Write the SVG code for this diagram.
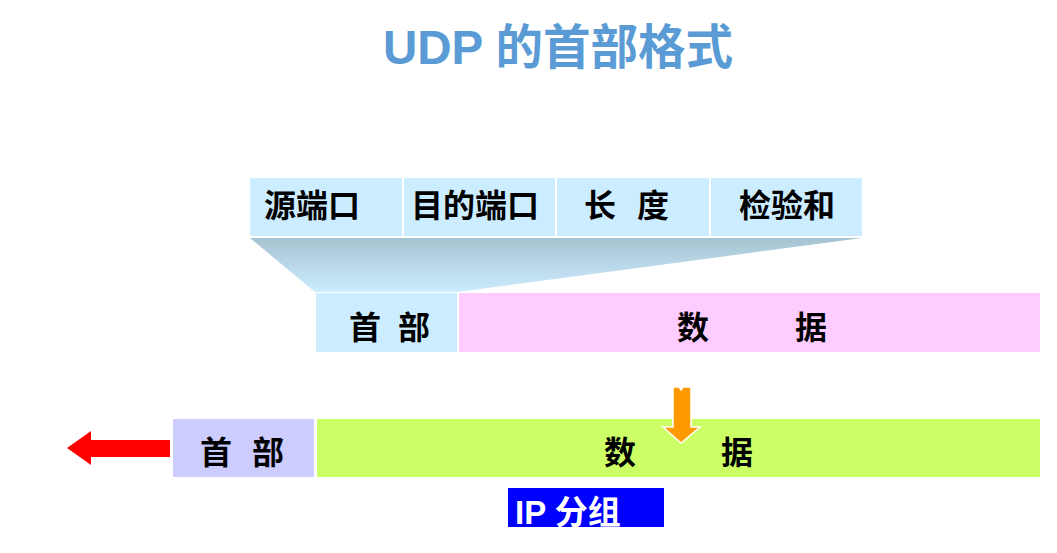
<svg xmlns="http://www.w3.org/2000/svg" width="1057" height="553" viewBox="0 0 1057 553">
  <style>
    .t { font-family: "Liberation Sans", "Noto Sans CJK SC", sans-serif; font-weight: bold; fill: #000; text-anchor: middle; }
    .f { font-size: 32px; }
    .sep { stroke: #ffffff; stroke-width: 2; }
  </style>
  <defs>
    <linearGradient id="fan" x1="0" y1="0" x2="0" y2="1">
      <stop offset="0" stop-color="#A6C3D1"/>
      <stop offset="1" stop-color="#CCECFF"/>
    </linearGradient>
  </defs>
  <rect width="1057" height="553" fill="#ffffff"/>

  <!-- title -->
  <text x="558" y="64" text-anchor="middle" font-family="Liberation Sans, Noto Sans CJK SC, sans-serif" font-weight="bold" font-size="47.5" fill="#5B9BD5">UDP 的首部格式</text>

  <!-- UDP header fields -->
  <g id="fields">
    <rect x="250" y="178" width="612" height="58" fill="#CCECFF"/>
    <line class="sep" x1="403" y1="178" x2="403" y2="236"/>
    <line class="sep" x1="556" y1="178" x2="556" y2="236"/>
    <line class="sep" x1="710" y1="178" x2="710" y2="236"/>
    <text class="t f" x="312" y="217">源端口</text>
    <text class="t f" x="475" y="217">目的端口</text>
    <text class="t f" x="600" y="217">长</text>
    <text class="t f" x="653" y="217">度</text>
    <text class="t f" x="787" y="217">检验和</text>
  </g>

  <!-- expansion fan from header to fields -->
  <g id="fan-shape">
    <polygon points="250,238 862,238 458,292 315,292" fill="url(#fan)"/>
  </g>

  <!-- UDP datagram -->
  <g id="udp-header">
    <rect x="316" y="293" width="141" height="59" fill="#CCECFF"/>
    <text class="t f" x="365" y="339">首</text>
    <text class="t f" x="414" y="339">部</text>
  </g>
  <g id="udp-data">
    <rect x="459" y="293" width="581" height="59" fill="#FFCCFF"/>
    <text class="t f" x="693" y="339">数</text>
    <text class="t f" x="811" y="339">据</text>
  </g>

  <!-- IP datagram -->
  <g id="ip-header">
    <rect x="173" y="419" width="141" height="58" fill="#CCCCFF"/>
    <text class="t f" x="216" y="464">首</text>
    <text class="t f" x="268" y="464">部</text>
  </g>
  <g id="ip-data">
    <rect x="317" y="419" width="723" height="58" fill="#CCFF66"/>
    <text class="t f" x="620" y="464">数</text>
    <text class="t f" x="737" y="464">据</text>
  </g>

  <g id="ip-label">
    <rect x="508" y="488" width="156" height="39" fill="#0000FF"/>
    <text x="515" y="524" font-family="Liberation Sans, Noto Sans CJK SC, sans-serif" font-weight="bold" font-size="33" fill="#ffffff">IP 分组</text>
  </g>

  <!-- arrows -->
  <g id="connectors">
    <polygon points="681,443 663,427 673,427 673,387 679,387 681,390 683,387 691,387 691,427 700,427" fill="#FF9900" stroke="#ffffff" stroke-width="1.5" stroke-linejoin="miter"/>
    <polygon points="67,448 91,431 91,440 170,440 170,457 91,457 91,465" fill="#FF0000"/>
  </g>
</svg>
